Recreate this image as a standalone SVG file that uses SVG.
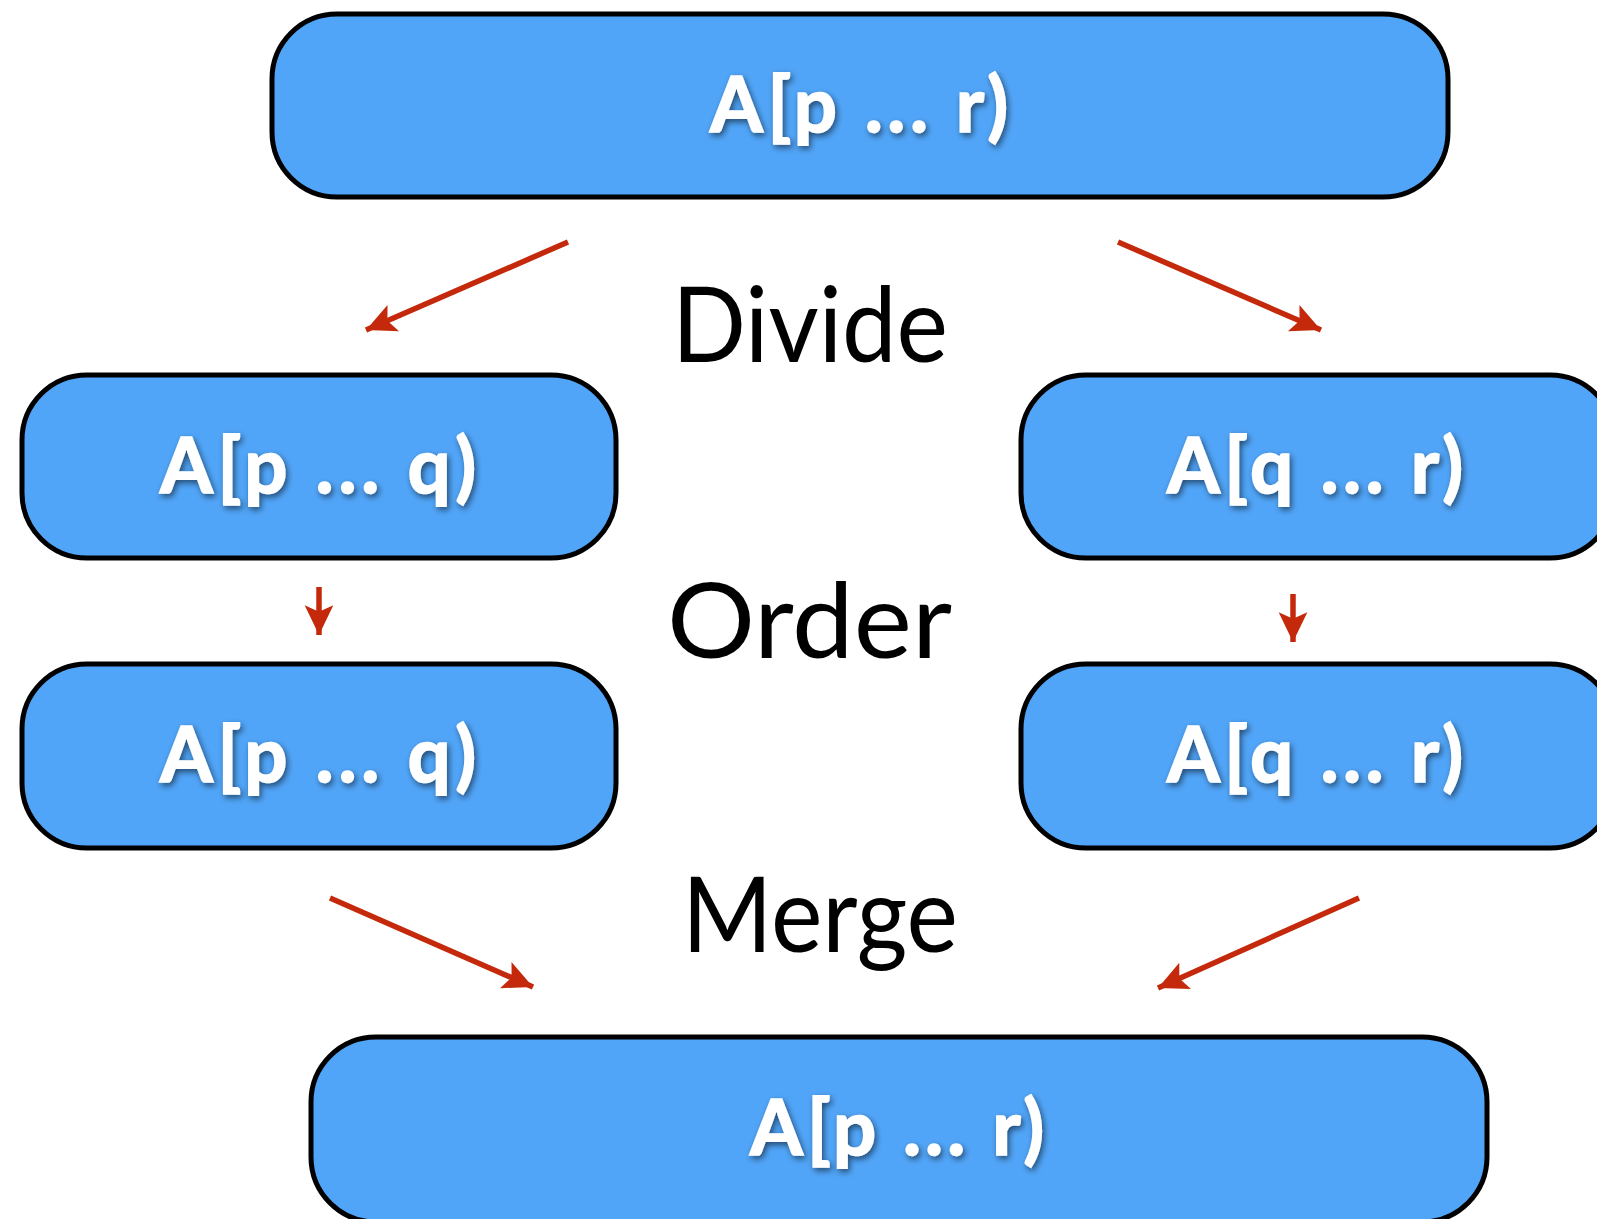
<svg xmlns="http://www.w3.org/2000/svg" width="1597" height="1219" viewBox="0 0 1597 1219">
<style>
.box{fill:#51A5F8;stroke:#000;stroke-width:5}
.nt{font-family:Lato,"Open Sans","Liberation Sans",sans-serif;font-weight:bold;font-size:76px;fill:#fff;stroke:#fff;stroke-width:1.6;text-anchor:middle}
.lb{font-family:Lato,"Open Sans","Liberation Sans",sans-serif;font-size:105px;fill:#000}
.ar{stroke:#C4290C;stroke-width:5.5;fill:none;marker-end:url(#ah)}
</style>
<defs>
<filter id="sh" x="-20%" y="-30%" width="140%" height="160%">
<feDropShadow dx="2" dy="3" stdDeviation="3" flood-color="#000" flood-opacity="0.55"/>
</filter>
<marker id="ah" markerUnits="userSpaceOnUse" markerWidth="34" markerHeight="34" viewBox="-30 -16 32 32" refX="0" refY="0" orient="auto">
<path d="M0,0 L-28,-13.5 L-22,0 L-28,13.5 Z" fill="#C4290C"/>
</marker>
</defs>
<rect width="1597" height="1219" fill="#fff"/>
<g id="top">
<rect class="box" x="272" y="14" width="1176" height="183" rx="65"/>
<text class="nt" x="859" y="132" textLength="298" lengthAdjust="spacing" filter="url(#sh)">A[p ... r)</text>
</g>
<g id="left1">
<rect class="box" x="22" y="375" width="594" height="183" rx="65"/>
<text class="nt" x="318" y="493" textLength="316" lengthAdjust="spacing" filter="url(#sh)">A[p ... q)</text>
</g>
<g id="right1">
<rect class="box" x="1021" y="375" width="594" height="183" rx="65"/>
<text class="nt" x="1315" y="493" textLength="296" lengthAdjust="spacing" filter="url(#sh)">A[q ... r)</text>
</g>
<g id="left2">
<rect class="box" x="22" y="664" width="594" height="184" rx="65"/>
<text class="nt" x="318" y="782" textLength="316" lengthAdjust="spacing" filter="url(#sh)">A[p ... q)</text>
</g>
<g id="right2">
<rect class="box" x="1021" y="664" width="594" height="184" rx="65"/>
<text class="nt" x="1315" y="782" textLength="296" lengthAdjust="spacing" filter="url(#sh)">A[q ... r)</text>
</g>
<g id="bottom">
<rect class="box" x="311" y="1037" width="1176" height="185" rx="65"/>
<text class="nt" x="897" y="1155" textLength="294" lengthAdjust="spacing" filter="url(#sh)">A[p ... r)</text>
</g>
<g id="labels">
<text class="lb" x="672" y="362" textLength="276" lengthAdjust="spacingAndGlyphs">Divide</text>
<text class="lb" x="667" y="658" textLength="285" lengthAdjust="spacingAndGlyphs">Order</text>
<text class="lb" x="682" y="952" textLength="276" lengthAdjust="spacingAndGlyphs">Merge</text>
</g>
<g id="connectors">
<line class="ar" x1="568" y1="242" x2="366" y2="330"/>
<line class="ar" x1="1118" y1="242" x2="1321" y2="330"/>
<line class="ar" x1="319" y1="587" x2="319" y2="635"/>
<line class="ar" x1="1293" y1="594" x2="1293" y2="642"/>
<line class="ar" x1="330" y1="898" x2="533" y2="987"/>
<line class="ar" x1="1359" y1="898" x2="1158" y2="988"/>
</g>
</svg>
